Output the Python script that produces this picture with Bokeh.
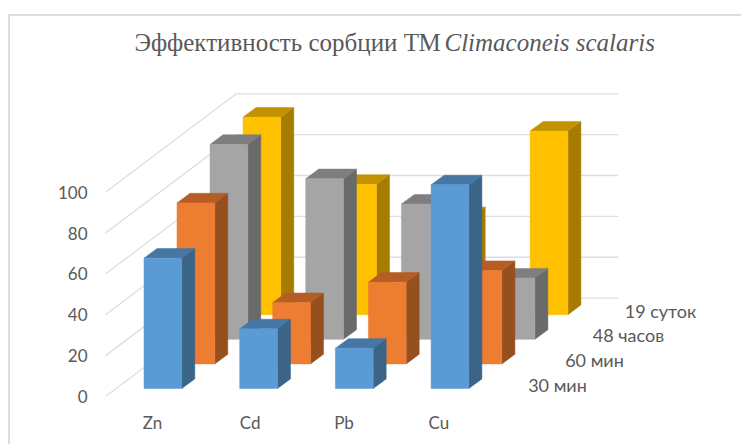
from bokeh.plotting import figure
from bokeh.models import Range1d, FixedTicker
from bokeh.core.properties import value
from bokeh.embed import file_html
from bokeh.resources import INLINE

title_plain = "Эффективность сорбции ТМ"
title_italic = "Climaconeis scalaris"
categories = ["Zn", "Cd", "Pb", "Cu"]
series_names = ["30 мин", "60 мин", "48 часов", "19 суток"]
v_30min = [63.8, 29.2, 19.7, 99.7]
v_60min = [78.8, 30.0, 40.0, 45.7]
v_48h = [95.4, 78.6, 66.2, 30.0]
v_19d = [96.7, 63.8, 48.0, 89.9]
value_ticks = [0, 20, 40, 60, 80, 100]

series_values = [v_30min, v_60min, v_48h, v_19d]
front = ["#5B9BD5", "#ED7D31", "#A5A5A5", "#FFC000"]
top = ["#4676A3", "#B55D25", "#7E7E7E", "#C29200"]
side = ["#3A6488", "#96501F", "#6A6A6A", "#A67C00"]

PX_X, PX_Y = 95.7, 2.043
X0_PX, Y0_PX = 143.5, 396.0
W, H = 741, 444
F_LEFT, F_BOTTOM = 96, 44


def ux(px):
    return (px - X0_PX) / PX_X


def uy(py):
    return (Y0_PX - py) / PX_Y


border_css = ("linear-gradient(#DDDDDD,#DDDDDD) 8px 14px / 2px 430px no-repeat, "
              "linear-gradient(#DDDDDD,#DDDDDD) 8px 14px / 733px 2px no-repeat")

p = figure(width=W, height=H, frame_width=W - F_LEFT, frame_height=H - F_BOTTOM,
           output_backend="svg", toolbar_location=None,
           x_range=Range1d(ux(F_LEFT), ux(W)),
           y_range=Range1d(uy(H - F_BOTTOM), uy(0)),
           min_border_left=F_LEFT, min_border_right=0, min_border_top=0,
           min_border_bottom=F_BOTTOM, outline_line_color=None,
           background_fill_color=None, border_fill_color=None,
           styles={"background": border_css})
p.grid.visible = False

label_color = "#595959"
for ax in (p.xaxis[0], p.yaxis[0]):
    ax.axis_line_color = None
    ax.major_tick_line_color = None
    ax.minor_tick_line_color = None
    ax.major_label_text_font = "Lato"
    ax.major_label_text_font_size = "17px"
    ax.major_label_text_color = label_color

p.yaxis[0].ticker = FixedTicker(ticks=value_ticks)
p.yaxis[0].major_label_standoff = 3
x_tick_pos = [0.09, 1.11, 2.09, 3.08]
p.xaxis[0].ticker = FixedTicker(ticks=x_tick_pos)
p.xaxis[0].major_label_overrides = {t: c for t, c in zip(x_tick_pos, categories)}
p.xaxis[0].major_label_standoff = 5

grid_left = ux(105)
corner_x = ux(235.7) - grid_left
corner_y = 98.4 / PX_Y
grid_right = ux(618)
for v in value_ticks:
    p.line([grid_left, grid_left + corner_x, grid_right],
           [v, v + corner_y, v + corner_y], line_color="#DEDEDE", line_width=1.3)

bar_w = 37.8 / PX_X
d_x, d_y = 13 / PX_X, 9.6 / PX_Y
step_x, step_y = 33 / PX_X, 24.6 / PX_Y
base0 = 8 / PX_Y

for s in reversed(range(len(series_values))):
    for i, val in enumerate(series_values[s]):
        x = i + s * step_x
        b = base0 + s * step_y
        t = b + val
        p.patch([x + bar_w, x + bar_w + d_x, x + bar_w + d_x, x + bar_w],
                [b, b + d_y, t + d_y, t], fill_color=side[s], line_color=side[s], line_width=0.5)
        p.patch([x, x + d_x, x + bar_w + d_x, x + bar_w],
                [t, t + d_y, t + d_y, t], fill_color=top[s], line_color=top[s], line_width=0.5)
        p.quad(left=x, right=x + bar_w, bottom=b, top=t, fill_color=front[s],
               line_color=front[s], line_width=0.5)

label_centers = [557, 594, 628, 660]
for s, name in enumerate(series_names):
    p.text([ux(label_centers[s])], [uy(384 - 24.6 * s)], text=[name],
           text_font=value("Lato"), text_font_size="18px", text_color=label_color,
           text_align="center", text_baseline="middle")

p.text([ux(134)], [uy(42)], text=[title_plain], text_font=value("Liberation Serif"),
       text_font_size="25px", text_color=label_color, text_align="left", text_baseline="middle")
p.text([ux(444)], [uy(42)], text=[title_italic], text_font=value("Liberation Serif"),
       text_font_style="italic", text_font_size="25px", text_color=label_color,
       text_align="left", text_baseline="middle")

open("out.html", "w").write(file_html(p, INLINE))
